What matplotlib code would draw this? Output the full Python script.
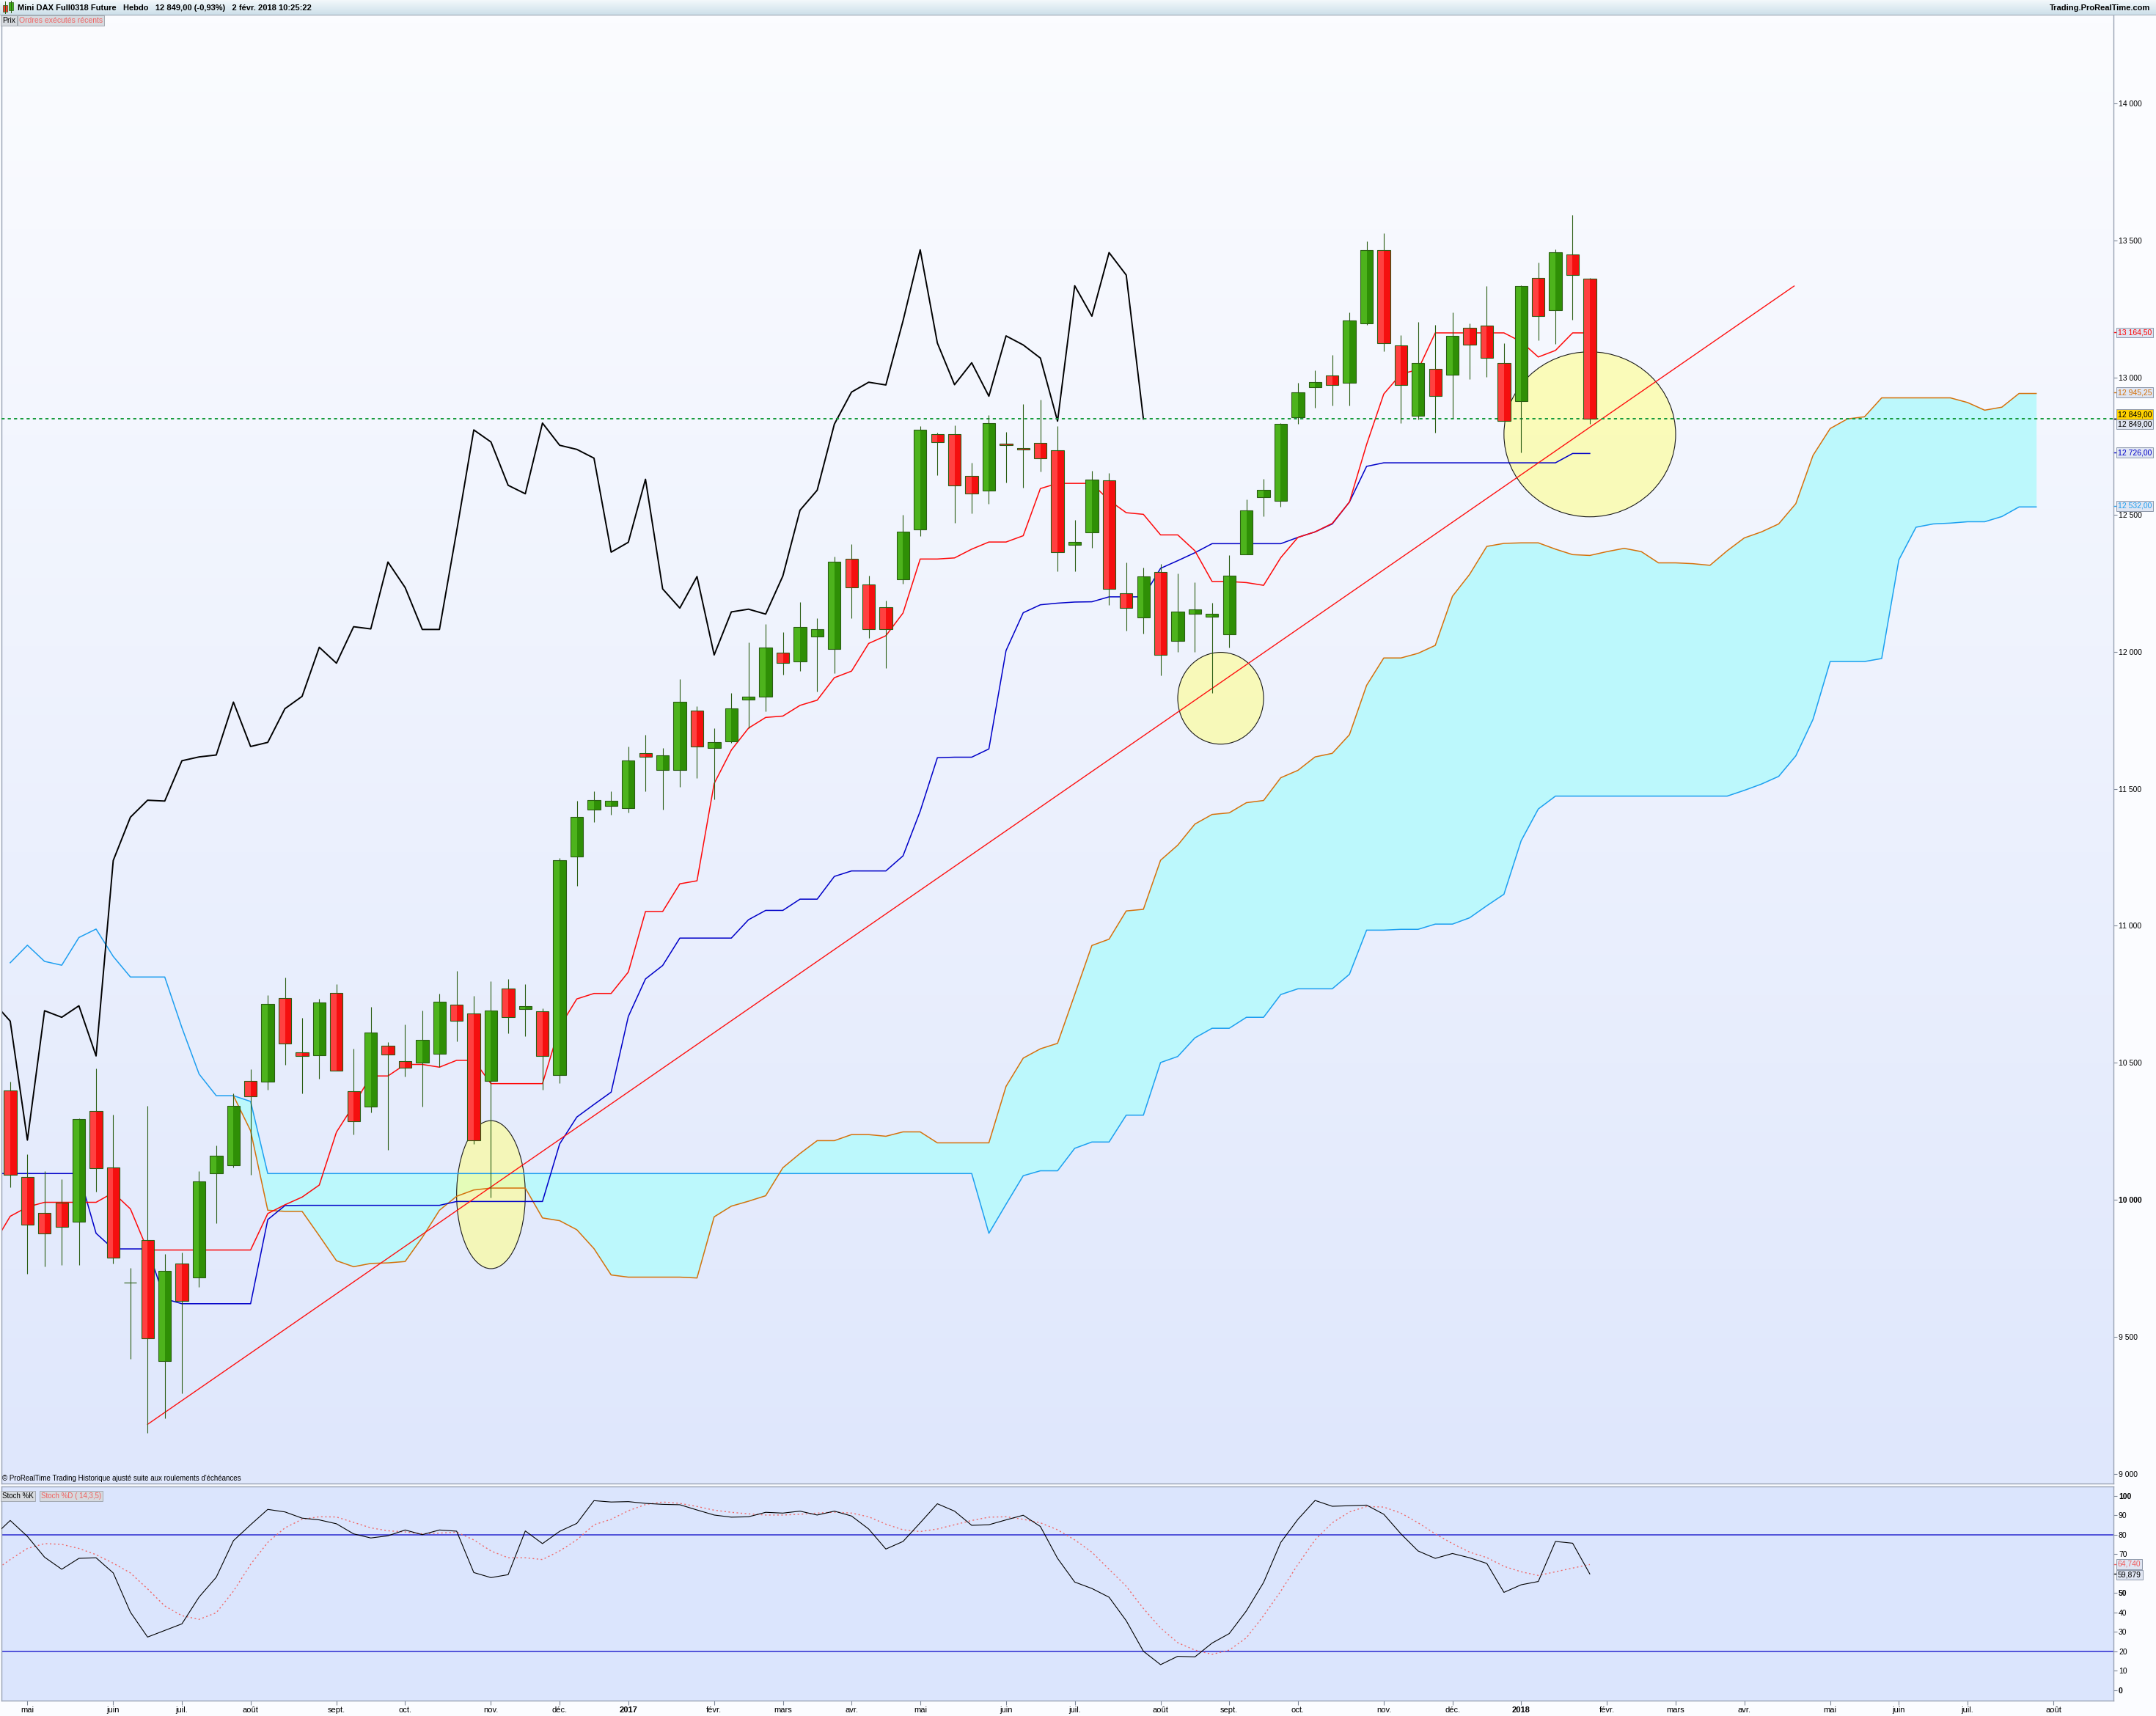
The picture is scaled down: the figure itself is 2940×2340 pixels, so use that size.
import numpy as np
import pandas as pd
import matplotlib
matplotlib.use('Agg')
import matplotlib.pyplot as plt
from matplotlib.patches import Rectangle, Ellipse
from matplotlib.lines import Line2D
from matplotlib.colors import LinearSegmentedColormap
from matplotlib.transforms import blended_transform_factory

plt.rcParams['font.family'] = ['Liberation Sans', 'DejaVu Sans']

# weekly bars, bar 0 = week of 2016-04-25
first_week = '2016-04-25'
opens = [10398, 10084, 9951, 9991, 9919, 10323, 10117, 9697, 9853, 9413,
         9767, 9716, 10097, 10125, 10435, 10431, 10735, 10539, 10527, 10754,
         10396, 10340, 10561, 10505, 10502, 10532, 10711, 10679, 10435, 10770,
         10695, 10687, 10456, 11252, 11424, 11438, 11430, 11631, 11568, 11568,
         11784, 11648, 11673, 11825, 11837, 11997, 11964, 12055, 12009, 12340,
         12246, 12161, 12265, 12447, 12793, 12793, 12641, 12587, 12758, 12744,
         12762, 12736, 12390, 12436, 12626, 12212, 12126, 12290, 12039, 12139,
         12127, 12063, 12354, 12563, 12550, 12854, 12964, 13007, 12980, 13198,
         13464, 13118, 12861, 13033, 13009, 13182, 13189, 13054, 12914, 13364,
         13247, 13450, 13362]
highs = [10431, 10166, 10106, 10075, 10298, 10480, 10311, 9751, 10344, 9802,
         9808, 10106, 10198, 10388, 10477, 10747, 10811, 10663, 10733, 10787,
         10551, 10704, 10575, 10641, 10691, 10753, 10835, 10744, 10799, 10806,
         10788, 10698, 11247, 11456, 11490, 11490, 11654, 11697, 11648, 11900,
         11801, 11721, 11850, 12034, 12102, 12072, 12181, 12122, 12347, 12392,
         12277, 12186, 12499, 12822, 12800, 12826, 12689, 12862, 12801, 12903,
         12920, 12822, 12480, 12660, 12652, 12325, 12306, 12319, 12285, 12254,
         12178, 12351, 12555, 12630, 12834, 12980, 13026, 13082, 13239, 13497,
         13527, 13155, 13203, 13192, 13237, 13197, 13334, 13126, 13338, 13420,
         13467, 13593, 13364]
lows = [10047, 9729, 9756, 9761, 9761, 10031, 9768, 9420, 9150, 9203,
        9295, 9681, 9916, 10118, 10091, 10403, 10494, 10389, 10443, 10470,
        10239, 10319, 10182, 10450, 10341, 10486, 10578, 10204, 10008, 10607,
        10596, 10403, 10427, 11146, 11378, 11406, 11413, 11490, 11424, 11508,
        11538, 11462, 11668, 11721, 11781, 11916, 11930, 11854, 11921, 12121,
        12049, 11941, 12248, 12423, 12645, 12470, 12505, 12539, 12616, 12597,
        12656, 12292, 12292, 12380, 12170, 12076, 12065, 11914, 11998, 11998,
        11850, 12016, 12354, 12495, 12529, 12830, 12890, 12897, 12899, 13193,
        13095, 12834, 12846, 12800, 12852, 12995, 13003, 12841, 12728, 13136,
        13124, 13212, 12831]
closes = [10091, 9909, 9877, 9902, 10294, 10115, 9789, 9697, 9496, 9740,
          9632, 10066, 10160, 10344, 10377, 10714, 10571, 10526, 10721, 10470,
          10287, 10611, 10530, 10483, 10585, 10722, 10652, 10218, 10690, 10666,
          10708, 10525, 11238, 11396, 11458, 11455, 11602, 11616, 11623, 11816,
          11654, 11669, 11792, 11837, 12016, 11958, 12091, 12083, 12327, 12234,
          12081, 12081, 12439, 12809, 12765, 12607, 12576, 12834, 12753, 12738,
          12706, 12363, 12399, 12629, 12229, 12159, 12274, 11988, 12145, 12155,
          12137, 12276, 12516, 12589, 12830, 12947, 12983, 12973, 13207, 13466,
          13126, 12974, 13054, 12932, 13152, 13119, 13071, 12841, 13335, 13224,
          13456, 13374, 12849]

# Ichimoku lines (bars -1..92)
tenkan = [9835,
          9940, 9974, 9991, 9991, 9991, 9991, 10026, 9967, 9817, 9817,
          9817, 9817, 9817, 9817, 9817, 9950, 9982, 10010, 10054, 10247,
          10345, 10452, 10452, 10494, 10494, 10484, 10509, 10509, 10424, 10424,
          10424, 10424, 10631, 10733, 10753, 10753, 10831, 11052, 11052, 11153,
          11164, 11519, 11641, 11721, 11760, 11765, 11804, 11823, 11905, 11929,
          12030, 12058, 12141, 12338, 12338, 12342, 12374, 12400, 12400, 12423,
          12595, 12614, 12614, 12614, 12552, 12507, 12501, 12426, 12426, 12368,
          12256, 12256, 12252, 12242, 12343, 12417, 12437, 12468, 12546, 12756,
          12940, 13013, 13029, 13163, 13163, 13163, 13163, 13163, 13131, 13075,
          13099, 13163, 13163]
kijun = [10096,
         10096, 10096, 10096, 10096, 10096, 9878, 9821, 9821, 9821, 9639,
         9621, 9621, 9621, 9621, 9621, 9928, 9979, 9980, 9980, 9980,
         9980, 9980, 9980, 9980, 9980, 9980, 9994, 9994, 9994, 9994,
         9994, 9994, 10204, 10302, 10348, 10393, 10669, 10806, 10855, 10955,
         10955, 10955, 10955, 11022, 11056, 11056, 11097, 11097, 11180, 11200,
         11200, 11200, 11255, 11418, 11613, 11615, 11615, 11645, 12004, 12142,
         12171, 12177, 12181, 12182, 12200, 12200, 12200, 12304, 12332, 12361,
         12394, 12394, 12394, 12394, 12394, 12417, 12437, 12466, 12546, 12676,
         12689, 12689, 12689, 12689, 12689, 12689, 12689, 12689, 12689, 12689,
         12689, 12723, 12723]
# bars 13..118
senkou_a = [10380, 10252, 9962, 9958, 9958, 9869, 9778,
            9756, 9768, 9770, 9775, 9863, 9962, 10013, 10036, 10043, 10043,
            10043, 9934, 9924, 9891, 9822, 9726, 9718, 9718, 9718, 9718,
            9715, 9938, 9977, 9995, 10015, 10117, 10169, 10216, 10216, 10238,
            10238, 10232, 10248, 10248, 10208, 10208, 10208, 10208, 10414, 10517,
            10551, 10571, 10749, 10928, 10951, 11054, 11060, 11239, 11294, 11371,
            11406, 11412, 11449, 11457, 11540, 11567, 11616, 11629, 11697, 11877,
            11977, 11977, 11994, 12023, 12202, 12282, 12384, 12395, 12397, 12397,
            12374, 12354, 12351, 12365, 12377, 12365, 12324, 12324, 12321, 12315,
            12368, 12415, 12437, 12466, 12540, 12716, 12814, 12849, 12857, 12926,
            12926, 12926, 12926, 12926, 12909, 12881, 12892, 12942, 12942]
# bars 0..118
senkou_b = [10865, 10929, 10870, 10856, 10957, 10988, 10888, 10813, 10813, 10813,
            10628, 10459, 10380, 10380, 10359, 10096, 10096, 10096, 10096, 10096,
            10096, 10096, 10096, 10096, 10096, 10096, 10096, 10096, 10096, 10096,
            10096, 10096, 10096, 10096, 10096, 10096, 10096, 10096, 10096, 10096,
            10096, 10096, 10096, 10096, 10096, 10096, 10096, 10096, 10096, 10096,
            10096, 10096, 10096, 10096, 10096, 10096, 10096, 9878, 9984, 10088,
            10106, 10106, 10188, 10211, 10211, 10309, 10309, 10501, 10523, 10591,
            10626, 10626, 10666, 10666, 10749, 10770, 10770, 10770, 10823, 10984,
            10984, 10987, 10987, 11006, 11006, 11029, 11073, 11115, 11310, 11426,
            11473, 11473, 11473, 11473, 11473, 11473, 11473, 11473, 11473, 11473,
            11473, 11494, 11517, 11545, 11620, 11753, 11964, 11964, 11964, 11975,
            12335, 12454, 12466, 12469, 12474, 12474, 12493, 12528, 12528]

# Stochastic (bars -1..92)
stoch_k = [79,
           87.4, 79.2, 68.5, 62.3, 67.9, 68.2, 60.4, 40.2, 27.4, 30.8,
           34.2, 48.0, 58.2, 77.0, 85.2, 93.1, 91.8, 88.6, 87.7, 85.7,
           80.5, 78.4, 79.5, 82.5, 80.1, 82.5, 81.9, 60.6, 58.0, 59.5,
           82.0, 75.5, 81.8, 85.9, 97.6, 96.9, 97.1, 96.2, 95.7, 95.5,
           92.8, 90.2, 89.1, 89.3, 91.6, 91.2, 92.2, 90.2, 92.2, 89.7,
           83.0, 72.7, 76.6, 86.2, 96.0, 92.2, 84.9, 85.2, 87.7, 90.1,
           84.3, 67.9, 55.7, 52.4, 47.9, 35.8, 20.1, 13.2, 17.5, 17.2,
           24.3, 29.2, 40.9, 55.5, 76.1, 88.0, 97.7, 94.7, 95.0, 95.3,
           90.6, 80.5, 71.7, 67.9, 70.4, 68.2, 65.3, 50.4, 54.3, 56.0,
           76.6, 75.7, 59.879]
stoch_d = [61,
           67.3, 73.0, 75.5, 75.1, 73.0, 69.8, 65.4, 60.4, 52.2, 43.4,
           38.4, 36.5, 39.9, 51.0, 64.8, 76.1, 83.6, 88.0, 89.3, 89.2,
           86.4, 83.6, 82.1, 81.5, 80.5, 80.9, 81.4, 77.4, 71.7, 68.2,
           68.2, 67.3, 71.7, 77.4, 85.2, 88.0, 92.4, 95.6, 96.9, 96.2,
           94.6, 92.7, 91.6, 90.8, 90.2, 90.2, 90.6, 91.2, 91.7, 91.2,
           89.3, 85.5, 82.6, 81.7, 83.0, 85.2, 87.4, 89.1, 89.3, 88.0,
           86.2, 82.6, 77.4, 71.1, 62.3, 53.5, 42.1, 32.1, 24.5, 20.7,
           18.5, 20.7, 27.0, 38.4, 51.0, 64.8, 77.4, 86.2, 91.8, 94.6,
           94.3, 91.2, 86.2, 80.5, 75.5, 71.1, 68.3, 63.8, 61.0, 59.1,
           61.0, 62.9, 64.74]

# drawings
trend_bars = [8, 103.9]
trend_prices = [9181, 13334]
circle_bars = [28.0, 70.5, 92.0]
circle_prices = [10019, 11830, 12793]
circle_widths = [4.0, 5.0, 10.0]
circle_heights = [540, 335, 602]

last_price = 12849.0
price_ticks = [9000, 9500, 10000, 10500, 11000, 11500, 12000, 12500, 13000, 13500, 14000]
stoch_ticks = [0, 10, 20, 30, 40, 50, 70, 80, 90, 100]
price_tags = [13164.50, 12945.25, 12849.00, 12849.00, 12726.00, 12532.00]
price_tag_colors = ['#ff0000', '#d4720c', 'black', 'black', '#0000c8', '#1e9ff0']
stoch_tags = [64.740, 59.879]
stoch_tag_colors = ['#f06060', 'black']
month_names = ['janv.', 'févr.', 'mars', 'avr.', 'mai', 'juin',
               'juil.', 'août', 'sept.', 'oct.', 'nov.', 'déc.']


def fr_num(v, dec=0):
    s = f'{v:,.{dec}f}'
    return s.replace(',', ' ').replace('.', ',')


W, H = 2940, 2340
fig = plt.figure(figsize=(W / 100, H / 100), dpi=100, facecolor='#fbfcff')


def fx(p):
    return p / W


def fy(p):
    return 1 - p / H


ax = fig.add_axes([fx(2), fy(2023), fx(2882) - fx(2), fy(20) - fy(2023)])
axs = fig.add_axes([fx(2), fy(2319), fx(2882) - fx(2), fy(2027) - fy(2319)])

x0, x1 = -0.51, 122.5
pmin, pmax = 8965, 14324
smin, smax = -5.3, 104.9

# background gradient
bgm = LinearSegmentedColormap.from_list('bgm', ['#dfe7fc', '#fbfcff'])
ax.imshow(np.linspace(1, 0, 256).reshape(-1, 1), cmap=bgm, aspect='auto',
          extent=(x0, x1, pmin, pmax), zorder=0, interpolation='bicubic')
axs.set_facecolor('#dbe5fd')

# cloud
xb = np.arange(0, len(senkou_b))
xa = np.arange(13, 13 + len(senkou_a))
ax.fill_between(xa, senkou_a, senkou_b[13:], color='#bcf8fc', lw=0, zorder=1)

for b, p, w, h in zip(circle_bars, circle_prices, circle_widths, circle_heights):
    ax.add_patch(Ellipse((b, p), w, h, fc=(1, 1, 0.55, 0.6), ec='#1a1a1a', lw=0.8, zorder=1.5))

ax.plot(xb, senkou_b, color='#1e9ff0', lw=1.1, zorder=2)
ax.plot(xa, senkou_a, color='#d4720c', lw=1.1, zorder=2)
xt = np.arange(-1, -1 + len(tenkan))
ax.plot(xt, kijun, color='#0000c8', lw=1.1, zorder=2.2)
ax.plot(xt, tenkan, color='#ff0a0a', lw=1.1, zorder=2.3)
chikou = closes[25:]
ax.plot(np.arange(-1, -1 + len(chikou)), chikou, color='black', lw=1.4, zorder=2.4)
ax.plot(trend_bars, trend_prices, color='#ff1010', lw=1.0, zorder=2.5)
ax.axhline(last_price, color='#139a3a', lw=1.4, ls=(0, (2.2, 2.2)), zorder=2.6)

# candles
edge = '#2b5e14'
for i, (o, h, l, c) in enumerate(zip(opens, highs, lows, closes)):
    ax.vlines(i, l, h, color=edge, lw=0.8, zorder=3)
    up = c >= o
    lo, hi = min(o, c), max(o, c)
    light, dark = ('#4db31c', '#2f8f06') if up else ('#ff4040', '#f50f0f')
    ax.add_patch(Rectangle((i - 0.37, lo), 0.37, hi - lo, fc=light, lw=0, zorder=3.1))
    ax.add_patch(Rectangle((i, lo), 0.37, hi - lo, fc=dark, lw=0, zorder=3.1))
    ax.add_patch(Rectangle((i - 0.37, lo), 0.74, hi - lo, fc='none', ec=edge, lw=0.8, zorder=3.2))

ax.set_xlim(x0, x1)
ax.set_ylim(pmin, pmax)
ax.set_xticks([])
ax.yaxis.tick_right()
ax.set_yticks(price_ticks)
labs = ax.set_yticklabels([fr_num(t) for t in price_ticks])
for t, lab in zip(price_ticks, labs):
    if t == 10000:
        lab.set_fontweight('bold')
        lab.set_fontsize(8)
ax.tick_params(axis='y', direction='out', length=3.5, width=0.8, color='#7d8797',
               labelcolor='black', pad=1.5, labelsize=7.5)

# stochastic panel
xs = np.arange(-1, -1 + len(stoch_k))
axs.axhline(80, color='#2b2bd0', lw=1.1, zorder=1)
axs.axhline(20, color='#2b2bd0', lw=1.1, zorder=1)
axs.plot(xs, stoch_d, color='#f06a6a', lw=1.0, ls=(0, (1.5, 2.5)), zorder=2)
axs.plot(xs, stoch_k, color='black', lw=0.8, zorder=3)
axs.set_xlim(x0, x1)
axs.set_ylim(smin, smax)
axs.yaxis.tick_right()
axs.set_yticks(stoch_ticks)
slabs = axs.set_yticklabels([str(t) for t in stoch_ticks])
for t, lab in zip(stoch_ticks, slabs):
    if t in (0, 50, 100):
        lab.set_fontweight('bold')
        lab.set_fontsize(8.5)
axs.tick_params(axis='y', direction='out', length=3.5, width=0.8, color='#7d8797',
                labelcolor='black', pad=1.5, labelsize=7.5)

weeks = pd.date_range(first_week, periods=int(x1) + 1, freq='7D')
mpos, mlab = [], []
for i in range(1, len(weeks)):
    if weeks[i].month != weeks[i - 1].month:
        mpos.append(i)
        mlab.append(str(weeks[i].year) if weeks[i].month == 1 else month_names[weeks[i].month - 1])
axs.set_xticks(mpos)
xl = axs.set_xticklabels(mlab)
for lab in xl:
    if lab.get_text().isdigit():
        lab.set_fontweight('bold')
        lab.set_fontsize(9)
axs.tick_params(axis='x', direction='out', length=4, width=0.8, color='#7d8797',
                pad=1.5, labelsize=8)

for a in (ax, axs):
    for s in a.spines.values():
        s.set_color('#98a2b3')
        s.set_linewidth(1.0)


def add_tag(axis, value, text, color, dy=0, fc='#dfe5f2', size=7.5):
    tr = blended_transform_factory(axis.transAxes, axis.transData)
    axis.plot([1.0, 1.0022], [value, value], transform=tr, color=color, lw=1.0, clip_on=False)
    axis.annotate(text, xy=(1.0, value), xycoords=tr, xytext=(4.2, dy),
                  textcoords='offset points', ha='left', va='center', fontsize=size,
                  color=color, annotation_clip=False,
                  bbox=dict(boxstyle='square,pad=0.18', fc=fc, ec='#8e98aa', lw=0.7))


tag_dy = [0, 0, 4.5, -5.2, 0, 0]
tag_fc = ['#dfe5f2', '#dfe5f2', '#ffd200', '#dfe5f2', '#dfe5f2', '#dfe5f2']
for v, col, dy, fc in zip(price_tags, price_tag_colors, tag_dy, tag_fc):
    add_tag(ax, v, fr_num(v, 2), col, dy, fc)
add_tag(axs, stoch_tags[0], fr_num(stoch_tags[0], 3), stoch_tag_colors[0], 0.5)
add_tag(axs, stoch_tags[1], fr_num(stoch_tags[1], 3), stoch_tag_colors[1], -0.8)

# header band
hdr = fig.add_axes([0, fy(20), 1, 20 / H])
hdr.set_axis_off()
hdr.imshow(np.linspace(0, 1, 32).reshape(-1, 1),
           cmap=LinearSegmentedColormap.from_list('h', ['#f3f8fb', '#cde0ea']),
           aspect='auto', extent=(0, 1, 0, 1))
hdr.set_xlim(0, 1)
hdr.set_ylim(0, 1)
fig.add_artist(Line2D([0, 1], [fy(20), fy(20)], color='#a9b4bf', lw=0.8))
# little candle icon
fig.add_artist(Line2D([fx(7), fx(7)], [fy(2), fy(18)], color=edge, lw=0.7))
fig.add_artist(Rectangle((fx(4), fy(16)), fx(6), 9 / H, fc='#ff3030', ec=edge, lw=0.5))
fig.add_artist(Line2D([fx(15), fx(15)], [fy(1), fy(17)], color=edge, lw=0.7))
fig.add_artist(Rectangle((fx(12), fy(14)), fx(6), 11 / H, fc='#3fb01a', ec=edge, lw=0.5))

fig.text(fx(24), fy(10.5), 'Mini DAX Full0318 Future   Hebdo   12 849,00 (-0,93%)   2 févr. 2018 10:25:22',
         fontsize=8, fontweight='bold', va='center', ha='left')
fig.text(fx(2932), fy(10.5), 'Trading.ProRealTime.com', fontsize=8, fontweight='bold',
         va='center', ha='right')
tab = dict(boxstyle='square,pad=0.2', fc='#d6dadf', ec='#9aa0a8', lw=0.6)
fig.text(fx(3), fy(28), 'Prix', fontsize=7.5, va='center', bbox=tab)
fig.text(fx(26), fy(28), 'Ordres exécutés récents', fontsize=7.5, va='center', color='#f06464', bbox=tab)
fig.text(fx(3), fy(2016), "© ProRealTime Trading Historique ajusté suite aux roulements d'échéances",
         fontsize=7, va='center')
fig.text(fx(3), fy(2040), 'Stoch %K', fontsize=7, va='center', bbox=tab)
fig.text(fx(56), fy(2040), 'Stoch %D ( 14,3,5)', fontsize=7, va='center', color='#f06060', bbox=tab)

fig.savefig('out.png', dpi=100, facecolor=fig.get_facecolor())
